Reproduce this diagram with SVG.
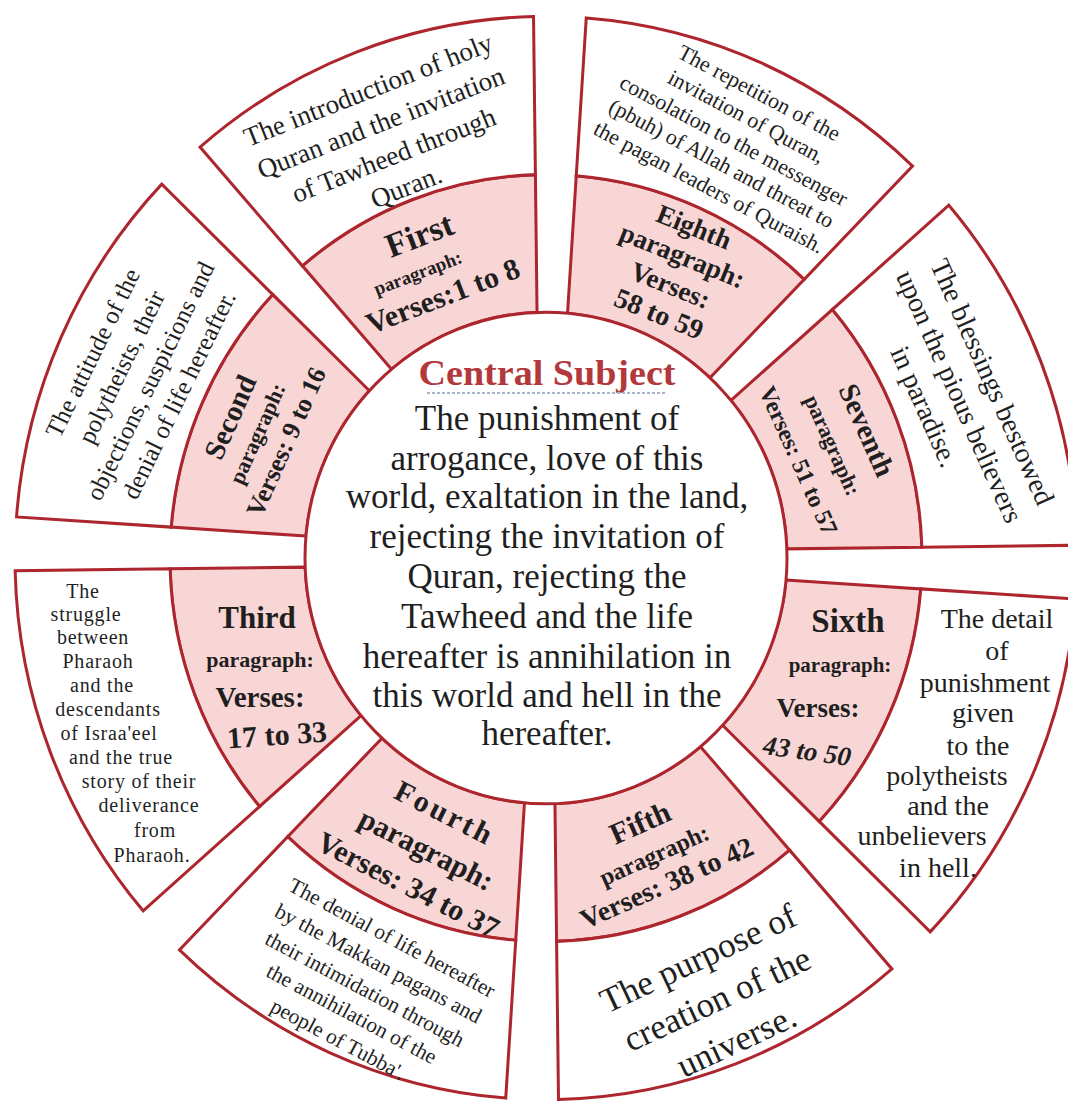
<svg xmlns="http://www.w3.org/2000/svg" width="1068" height="1102" viewBox="0 0 1068 1102">
<style>
.pink{fill:#f9d6d6;stroke:#ad262d;stroke-width:3;stroke-linejoin:miter}
.white{fill:#ffffff;stroke:#ad262d;stroke-width:3;stroke-linejoin:miter}
text{font-family:"Liberation Serif","Times New Roman",serif;fill:#1f1f1f;text-anchor:middle}
.b{font-weight:bold}
.title{fill:#b3383b;font-weight:bold}
</style>
<rect width="1068" height="1102" fill="#ffffff"/>
<g id="connectors"></g>

<g id="sixth-paragraph">
<path class="pink" transform="translate(546,558) scale(1,1.02)" d="M240.04,21.54 L374.78,30.25 A376,376 0 0 1 273.26,258.28 L176.62,163.97 A241,241 0 0 0 240.04,21.54Z"/>
<text class="b" x="848" y="632" font-size="33">Sixth</text>
<text class="b" x="840" y="672" font-size="21">paragraph:</text>
<text class="b" x="818" y="717" font-size="27">Verses:</text>
<text class="b" x="807" y="760" font-size="27" font-style="italic" transform="rotate(8 807 752)">43 to 50</text>
</g>
<g id="sixth-subject">
<path class="white" transform="translate(546,558) scale(1,1.02)" d="M374.78,30.25 L529.47,40.25 A531,531 0 0 1 384.20,366.54 L273.26,258.28 A376,376 0 0 0 374.78,30.25Z"/>
<g font-size="28">
<text x="997" y="628">The detail</text>
<text x="997" y="660">of</text>
<text x="985" y="692">punishment</text>
<text x="983" y="722">given</text>
<text x="978" y="755">to the</text>
<text x="947" y="785">polytheists</text>
<text x="948" y="815">and the</text>
<text x="922" y="845">unbelievers</text>
<text x="938" y="877">in hell.</text>
</g>
</g>

<g id="fifth-paragraph">
<path class="pink" transform="translate(546,558) scale(1,1.02)" d="M154.50,184.97 L243.62,286.40 A376,376 0 0 1 10.59,375.86 L8.94,240.83 A241,241 0 0 0 154.50,184.97Z"/>
<g transform="translate(640,823) rotate(-24)">
<text class="b" y="10" font-size="30">Fifth</text>
<text class="b" y="43" font-size="24">paragraph:</text>
<text class="b" y="75" font-size="28">Verses: 38 to 42</text>
</g>
</g>
<g id="fifth-subject">
<path class="white" transform="translate(546,558) scale(1,1.02)" d="M243.62,286.40 L345.93,402.85 A531,531 0 0 1 12.49,530.85 L10.59,375.86 A376,376 0 0 0 243.62,286.40Z"/>
<g transform="translate(698,958) rotate(-25)" font-size="35">
<text y="12">The purpose of</text>
<text y="57">creation of the</text>
<text y="103">universe.</text>
</g>
</g>

<g id="fourth-paragraph">
<path class="pink" transform="translate(546,558) scale(1,1.02)" d="M-21.54,240.04 L-30.25,374.78 A376,376 0 0 1 -258.28,273.26 L-163.97,176.62 A241,241 0 0 0 -21.54,240.04Z"/>
<g transform="translate(445,813) rotate(27)">
<text class="b" y="10" font-size="30" letter-spacing="3">Fourth</text>
<text class="b" y="51" font-size="30">paragraph:</text>
<text class="b" y="91" font-size="30">Verses: 34 to 37</text>
</g>
</g>
<g id="fourth-subject">
<path class="white" transform="translate(546,558) scale(1,1.02)" d="M-30.25,374.78 L-40.25,529.47 A531,531 0 0 1 -366.54,384.20 L-258.28,273.26 A376,376 0 0 0 -30.25,374.78Z"/>
<g transform="translate(392,938) rotate(28)" font-size="21.5">
<text y="7">The denial of life hereafter</text>
<text y="36">by the Makkan pagans and</text>
<text y="65">their intimidation through</text>
<text y="93">the annihilation of the</text>
<text y="122">people of Tubba'.</text>
</g>
</g>

<g id="third-paragraph">
<path class="pink" transform="translate(546,558) scale(1,1.02)" d="M-184.97,154.50 L-286.40,243.62 A376,376 0 0 1 -375.86,10.59 L-240.83,8.94 A241,241 0 0 0 -184.97,154.50Z"/>
<text class="b" x="257" y="628" font-size="31">Third</text>
<text class="b" x="260" y="667" font-size="22">paragraph:</text>
<text class="b" x="260" y="707" font-size="29">Verses:</text>
<text class="b" x="277" y="745" font-size="30" transform="rotate(-4 277 735)">17 to 33</text>
</g>
<g id="third-subject">
<path class="white" transform="translate(546,558) scale(1,1.02)" d="M-286.40,243.62 L-402.85,345.93 A531,531 0 0 1 -530.85,12.49 L-375.86,10.59 A376,376 0 0 0 -286.40,243.62Z"/>
<g font-size="20" letter-spacing="0.8">
<text x="83" y="598">The</text>
<text x="86" y="621">struggle</text>
<text x="93" y="644">between</text>
<text x="98" y="668">Pharaoh</text>
<text x="102" y="692">and the</text>
<text x="108" y="716">descendants</text>
<text x="109" y="740">of Israa'eel</text>
<text x="121" y="764">and the true</text>
<text x="139" y="788">story of their</text>
<text x="149" y="812">deliverance</text>
<text x="155" y="837">from</text>
<text x="152" y="862">Pharaoh.</text>
</g>
</g>

<g id="second-paragraph">
<path class="pink" transform="translate(546,558) scale(1,1.02)" d="M-240.04,-21.54 L-374.78,-30.25 A376,376 0 0 1 -273.26,-258.28 L-176.62,-163.97 A241,241 0 0 0 -240.04,-21.54Z"/>
<g transform="translate(230,417) rotate(-66)">
<text class="b" y="10" font-size="29">Second</text>
<text class="b" x="-4" y="39" font-size="22">paragraph:</text>
<text class="b" y="70" font-size="26">Verses: 9 to 16</text>
</g>
</g>
<g id="second-subject">
<path class="white" transform="translate(546,558) scale(1,1.02)" d="M-374.78,-30.25 L-529.47,-40.25 A531,531 0 0 1 -384.20,-366.54 L-273.26,-258.28 A376,376 0 0 0 -374.78,-30.25Z"/>
<g transform="translate(93,353) rotate(-64)" font-size="25">
<text y="8">The attitude of the</text>
<text y="40">polytheists, their</text>
<text y="72">objections, suspicions and</text>
<text y="104">denial of life hereafter.</text>
</g>
</g>

<g id="first-paragraph">
<path class="pink" transform="translate(546,558) scale(1,1.02)" d="M-154.50,-184.97 L-243.62,-286.40 A376,376 0 0 1 -10.59,-375.86 L-8.94,-240.83 A241,241 0 0 0 -154.50,-184.97Z"/>
<g transform="translate(432,268) rotate(-21)">
<text class="b" y="-24" font-size="34">First</text>
<text class="b" x="-15" y="6" font-size="19">paragraph:</text>
<text class="b" y="40" font-size="30">Verses:1 to 8</text>
</g>
</g>
<g id="first-subject">
<path class="white" transform="translate(546,558) scale(1,1.02)" d="M-243.62,-286.40 L-345.93,-402.85 A531,531 0 0 1 -12.49,-530.85 L-10.59,-375.86 A376,376 0 0 0 -243.62,-286.40Z"/>
<g transform="translate(368,90) rotate(-21.5)" font-size="27">
<text y="9">The introduction of holy</text>
<text y="44">Quran and the invitation</text>
<text y="79">of Tawheed through</text>
<text y="113">Quran.</text>
</g>
</g>

<g id="eighth-paragraph">
<path class="pink" transform="translate(546,558) scale(1,1.02)" d="M21.54,-240.04 L30.25,-374.78 A376,376 0 0 1 258.28,-273.26 L163.97,-176.62 A241,241 0 0 0 21.54,-240.04Z"/>
<g transform="translate(694,227) rotate(22)">
<text class="b" y="9" font-size="27">Eighth</text>
<text class="b" y="40" font-size="27">paragraph:</text>
<text class="b" y="72" font-size="27">Verses:</text>
<text class="b" y="103" font-size="28">58 to 59</text>
</g>
</g>
<g id="eighth-subject">
<path class="white" transform="translate(546,558) scale(1,1.02)" d="M30.25,-374.78 L40.25,-529.47 A531,531 0 0 1 366.54,-384.20 L258.28,-273.26 A376,376 0 0 0 30.25,-374.78Z"/>
<g transform="translate(759,93) rotate(28)" font-size="22">
<text y="7">The repetition of the</text>
<text y="34">invitation of Quran,</text>
<text y="61">consolation to the messenger</text>
<text y="87">(pbuh) of Allah and threat to</text>
<text y="114">the pagan leaders of Quraish.</text>
</g>
</g>

<g id="seventh-paragraph">
<path class="pink" transform="translate(546,558) scale(1,1.02)" d="M184.97,-154.50 L286.40,-243.62 A376,376 0 0 1 375.86,-10.59 L240.83,-8.94 A241,241 0 0 0 184.97,-154.50Z"/>
<g transform="translate(867,430) rotate(66)">
<text class="b" y="10" font-size="29">Seventh</text>
<text class="b" y="45" font-size="22">paragraph:</text>
<text class="b" y="83" font-size="24">Verses: 51 to 57</text>
</g>
</g>
<g id="seventh-subject">
<path class="white" transform="translate(546,558) scale(1,1.02)" d="M286.40,-243.62 L402.85,-345.93 A531,531 0 0 1 530.85,-12.49 L375.86,-10.59 A376,376 0 0 0 286.40,-243.62Z"/>
<g transform="translate(992,382) rotate(66)" font-size="28">
<text y="9">The blessings bestowed</text>
<text y="45">upon the pious believers</text>
<text x="-5" y="81">in paradise.</text>
</g>
</g>

<g id="central-subject">
<circle class="white" transform="translate(546,558) scale(1,1.02)" cx="0" cy="0" r="241"/>
<text class="title" x="547" y="385" font-size="35" textLength="257" lengthAdjust="spacingAndGlyphs">Central Subject</text>
<line x1="427" y1="393" x2="667" y2="393" stroke="#aab5c9" stroke-width="2" stroke-dasharray="3 2"/>
<g font-size="35">
<text x="547" y="430">The punishment of</text>
<text x="547" y="470">arrogance, love of this</text>
<text x="547" y="508">world, exaltation in the land,</text>
<text x="547" y="548">rejecting the invitation of</text>
<text x="547" y="588">Quran, rejecting the</text>
<text x="547" y="628">Tawheed and the life</text>
<text x="547" y="668">hereafter is annihilation in</text>
<text x="547" y="707">this world and hell in the</text>
<text x="547" y="745">hereafter.</text>
</g>
</g>
</svg>
